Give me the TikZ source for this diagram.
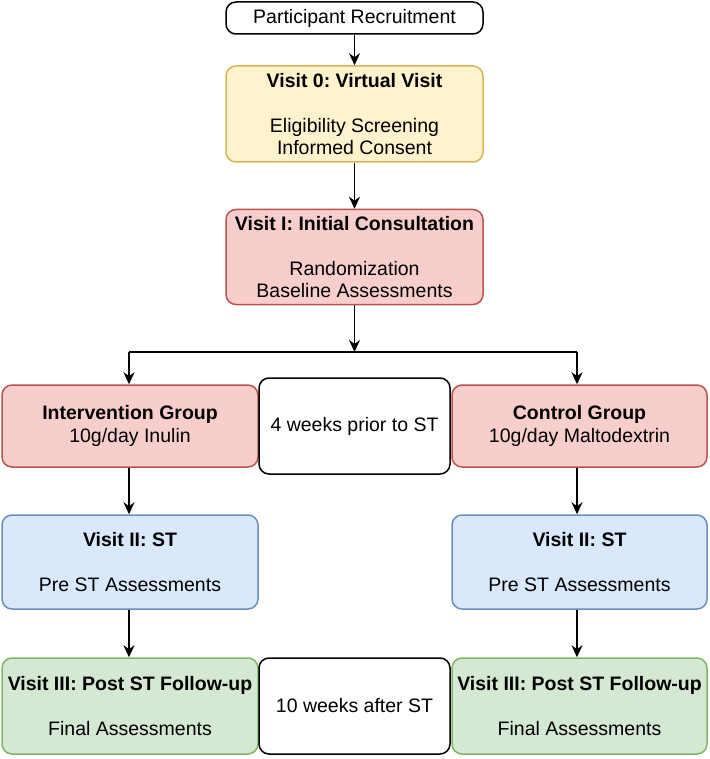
\documentclass[tikz,border=0pt]{standalone}
\usepackage{fontspec}
\setmainfont{Liberation Sans}
\usetikzlibrary{arrows.meta}
\definecolor{yfill}{HTML}{FFF2CC}\definecolor{ydraw}{HTML}{D6B656}
\definecolor{rfill}{HTML}{F8CECC}\definecolor{rdraw}{HTML}{B85450}
\definecolor{bfill}{HTML}{DAE8FC}\definecolor{bdraw}{HTML}{6C8EBF}
\definecolor{gfill}{HTML}{D5E8D4}\definecolor{gdraw}{HTML}{82B366}
\frenchspacing
\begin{document}
\begin{tikzpicture}[x=1pt,y=-1pt,
  box/.style={draw,rounded corners=10pt,line width=1.5pt,align=center,inner sep=0pt,
    font=\fontsize{19.5}{22.5}\selectfont},
  ybox/.style={box,fill=yfill,draw=ydraw},
  rbox/.style={box,fill=rfill,draw=rdraw},
  bbox/.style={box,fill=bfill,draw=bdraw},
  gbox/.style={box,fill=gfill,draw=gdraw},
  wbox/.style={box,fill=white,draw=black},
  arr/.style={line width=1.6pt,-{Stealth[length=12pt,width=11pt]}},
  ln/.style={line width=1.6pt}]
\useasboundingbox (0,0) rectangle (709,759);
\node[wbox,minimum width=257pt,minimum height=32pt] (rec) at (354.5,18) {Participant Recruitment};
\node[ybox,minimum width=257pt,minimum height=96pt] (v0) at (354.5,114)
  {\textbf{Visit 0: Virtual Visit}\\[22.5pt]Eligibility Screening\\Informed Consent};
\node[rbox,minimum width=257pt,minimum height=95pt] (v1) at (354.5,257)
  {\textbf{Visit I: Initial Consultation}\\[22.5pt]Randomization\\Baseline Assessments};
\node[rbox,minimum width=256pt,minimum height=82pt] (ig) at (130,426)
  {\textbf{Intervention Group}\\10g/day Inulin};
\node[wbox,minimum width=191pt,minimum height=96pt] (m1) at (354.5,426) {4 weeks prior to ST};
\node[rbox,minimum width=255pt,minimum height=82pt] (cg) at (579.5,426)
  {\textbf{Control Group}\\10g/day Maltodextrin};
\node[bbox,minimum width=256pt,minimum height=94pt] (v2l) at (130,562)
  {\textbf{Visit II: ST}\\[22.5pt]Pre ST Assessments};
\node[bbox,minimum width=255pt,minimum height=94pt] (v2r) at (579.5,562)
  {\textbf{Visit II: ST}\\[22.5pt]Pre ST Assessments};
\node[gbox,minimum width=256pt,minimum height=96pt] (v3l) at (130,706)
  {\textbf{Visit III: Post ST Follow-up}\\[22.5pt]Final Assessments};
\node[wbox,minimum width=191pt,minimum height=96pt] (m2) at (354.5,706) {10 weeks after ST};
\node[gbox,minimum width=255pt,minimum height=96pt] (v3r) at (579.5,706)
  {\textbf{Visit III: Post ST Follow-up}\\[22.5pt]Final Assessments};
\coordinate (sp) at (354.5,352);
\coordinate (spl) at (129,352);
\coordinate (spr) at (577,352);
\draw[arr] (rec) -- (v0);
\draw[arr] (v0) -- (v1);
\draw[arr] (v1) -- (sp);
\draw[ln] (spl) -- (spr);
\draw[arr] (spl) -- (spl |- ig.north);
\draw[arr] (spr) -- (spr |- cg.north);
\draw[arr] (ig.south -| spl) -- (spl |- v2l.north);
\draw[arr] (cg.south -| spr) -- (spr |- v2r.north);
\draw[arr] (v2l.south -| spl) -- (spl |- v3l.north);
\draw[arr] (v2r.south -| spr) -- (spr |- v3r.north);
\end{tikzpicture}
\end{document}
